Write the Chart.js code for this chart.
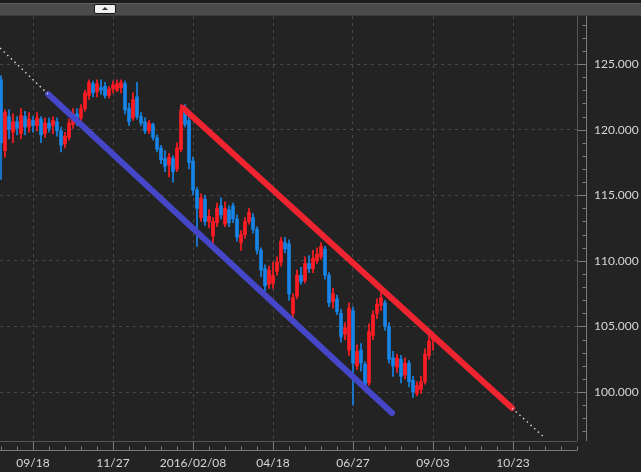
<!DOCTYPE html>
<html>
<head>
<meta charset="utf-8">
<script src="https://cdn.jsdelivr.net/npm/chart.js@4/dist/chart.umd.min.js"></script>
<style>
  body { margin: 0; background: #232323; width: 641px; height: 472px; overflow: hidden; }
  #topbar { position: relative; height: 16px; background: #1c1c1c; }
  #band { position: absolute; left: 0; right: 0; top: 3px; height: 11px; background: #4b4b4b; border-top: 1px solid #5e5e5e; border-bottom: 1px solid #3a3a3a; }
  #btn { position: absolute; left: 94px; top: 4px; width: 20px; height: 8px; background: #f0f0f0; border: 1px solid #151515; border-radius: 2px; }
  #btn:after { content: ''; position: absolute; left: 7px; top: 2px; border-left: 3px solid transparent; border-right: 3px solid transparent; border-bottom: 3px solid #333; }
  #wrap { position: relative; width: 641px; height: 456px; }
</style>
</head>
<body>
<div id="topbar"><div id="band"></div><div id="btn"></div></div>
<div id="wrap"><canvas id="fxChart"></canvas></div>
<script>
// x축 : 거래일 순번 (09/18 = 0), 50 거래일마다 날짜 라벨
const xTickIdx = [0, 50, 100, 150, 200, 250, 300];
const xTickLabels = ['09/18', '11/27', '2016/02/08', '04/18', '06/27', '09/03', '10/23'];
const yTicks = [100, 105, 110, 115, 120, 125];

// 캔들 (2.5 거래일 간격) 시가/고가/저가/종가
const openP = [
  123.8, 118.4, 121.0, 119.8, 120.6, 119.7, 121.0, 120.2, 120.7, 120.3,
  120.8, 119.7, 120.5, 120.3, 120.6, 119.9, 118.9, 119.4, 120.4, 121.2,
  120.9, 121.6, 122.6, 123.5, 122.9, 123.2, 123.3, 122.6, 123.1, 123.0,
  123.2, 123.5, 121.6, 120.9, 122.5, 121.0, 120.6, 119.9, 120.4, 119.4,
  118.6, 117.8, 117.3, 117.8, 117.0, 118.5, 121.5, 120.7, 117.6, 115.4,
  113.3, 114.7, 113.0, 111.9, 112.9, 114.2, 112.8, 113.9, 114.2, 113.2,
  111.4, 112.0, 113.0, 113.3, 112.4, 110.8, 109.4, 108.2, 108.3, 109.2,
  109.9, 111.4, 111.3, 106.0, 107.3, 108.9, 108.5, 109.8, 109.4, 110.0,
  110.3, 110.9, 108.9, 106.9, 107.1, 106.0, 104.4, 103.2, 106.2, 102.0,
  103.2, 102.1, 100.7, 104.3, 106.0, 106.6, 106.8, 105.0, 102.6, 101.9,
  102.5, 101.3, 102.2, 100.9, 99.9, 100.2, 100.8, 102.8, 104.0
];
const highP = [
  124.1, 121.5, 121.5, 121.2, 121.0, 121.6, 121.4, 121.3, 121.0, 121.3,
  121.0, 120.9, 120.9, 121.0, 120.9, 120.2, 119.8, 120.8, 121.6, 121.6,
  121.9, 123.0, 123.8, 123.7, 123.8, 123.8, 123.6, 123.3, 123.7, 123.8,
  123.8, 123.7, 122.0, 122.8, 123.6, 121.3, 120.9, 120.7, 120.5, 119.6,
  118.8, 118.4, 118.2, 118.0, 119.0, 121.9, 121.9, 121.0, 117.9, 115.6,
  115.1, 115.0, 113.9, 113.3, 114.4, 114.8, 114.5, 114.2, 114.4, 113.5,
  112.3, 113.3, 114.0, 113.6, 112.6, 111.0, 109.7, 109.6, 109.9, 110.3,
  111.8, 111.8, 111.6, 107.5, 109.3, 109.5, 110.3, 110.4, 110.8, 111.0,
  111.4, 111.1, 109.1, 107.9, 107.4, 106.3, 105.3, 106.8, 106.5, 103.6,
  103.7, 102.3, 105.2, 106.2, 107.1, 107.6, 107.0, 105.3, 103.1, 102.9,
  102.8, 102.6, 102.4, 101.2, 100.8, 101.2, 103.3, 104.3, 104.5
];
const lowP = [
  116.2, 117.9, 119.3, 119.0, 119.6, 119.3, 119.6, 119.8, 119.8, 119.9,
  119.0, 119.4, 119.8, 119.7, 119.5, 118.3, 118.6, 119.2, 120.1, 120.3,
  120.6, 121.4, 122.3, 122.5, 122.5, 122.7, 122.4, 122.4, 122.8, 122.9,
  122.8, 121.2, 120.3, 120.7, 120.8, 120.3, 119.7, 119.7, 119.2, 118.3,
  117.4, 116.8, 116.4, 116.0, 116.8, 118.3, 120.2, 117.0, 115.0, 111.1,
  113.0, 112.7, 112.5, 111.3, 112.6, 113.2, 112.6, 112.6, 112.9, 111.5,
  110.8, 111.7, 112.8, 112.1, 110.5, 108.8, 107.7, 107.9, 107.9, 108.9,
  109.6, 110.6, 107.0, 105.6, 107.1, 108.2, 108.3, 109.1, 109.1, 109.8,
  110.1, 108.6, 106.5, 106.4, 105.9, 103.8, 104.0, 102.8, 99.0, 101.7,
  101.6, 100.3, 100.5, 104.0, 105.6, 106.2, 104.7, 102.2, 101.2, 101.5,
  100.7, 101.0, 100.4, 99.6, 99.7, 99.9, 100.6, 102.5, 103.2
];
const closeP = [
  119.0, 121.3, 120.0, 120.6, 120.1, 121.1, 120.2, 120.8, 120.3, 120.9,
  119.6, 120.5, 120.1, 120.7, 119.9, 118.8, 119.5, 120.5, 121.2, 120.8,
  121.6, 122.8, 123.6, 122.8, 123.5, 123.0, 122.6, 123.1, 123.4, 123.5,
  123.6, 121.5, 120.6, 122.3, 121.0, 120.5, 119.9, 120.5, 119.4, 118.5,
  117.7, 117.2, 117.9, 116.8, 118.6, 121.5, 120.4, 117.5, 115.4, 114.0,
  114.8, 113.0, 113.4, 113.0, 114.0, 113.5, 114.0, 112.9, 113.2, 111.8,
  112.0, 113.0, 113.7, 112.4, 110.8, 109.3, 108.1, 109.3, 108.9, 109.9,
  111.5, 110.9, 107.5, 107.2, 108.9, 108.4, 109.8, 109.4, 110.2, 110.5,
  111.1, 108.9, 106.8, 107.5, 106.1, 104.2, 104.9, 106.4, 102.2, 103.1,
  102.2, 100.5, 104.6, 105.9, 106.7, 107.2, 105.0, 102.5, 102.0, 102.6,
  101.2, 102.2, 100.8, 100.0, 100.5, 100.8, 102.9, 103.9, 104.3
];

// 추세선 양 끝점 (x = 거래일 순번, y = 가격)
const blueLineX = [9.4, 224.4];
const blueLineY = [122.71, 98.40];
const blueDotX = [-20.6, 9.4];
const blueDotY = [126.22, 122.71];
const redLineX = [93.75, 299.4];
const redLineY = [121.65, 98.78];
const redDotX = [299.4, 320.0];
const redDotY = [98.78, 96.49];

const xMin = -20.625, xMax = 340;
const yMin = 96.27, yMax = 128.66;

const dayIdx = openP.map((v, i) => -20 + 2.5 * i);
const upColor = '#ff1c24';
const downColor = '#1784e6';
const candleColors = dayIdx.map((x, i) => closeP[i] >= openP[i] ? upColor : downColor);
const pts = (xs, ys) => xs.map((x, i) => ({ x: x, y: ys[i] }));

// 축 테두리, 눈금 그려주는 장치
const axisDeco = {
  id: 'axisDeco',
  afterDraw(chart) {
    const { ctx, chartArea: a, scales: { x, y } } = chart;
    ctx.save();
    ctx.lineWidth = 1;
    ctx.strokeStyle = '#555';
    ctx.beginPath();
    ctx.moveTo(a.right + 0.5, a.top); ctx.lineTo(a.right + 0.5, a.bottom);
    ctx.moveTo(a.left, a.bottom + 0.5); ctx.lineTo(a.right, a.bottom + 0.5);
    ctx.stroke();
    ctx.strokeStyle = '#7a7a7a';
    ctx.beginPath();
    const ax = a.right + 9.5, ay = a.bottom + 9.5;
    ctx.moveTo(ax, a.top); ctx.lineTo(ax, a.bottom);
    ctx.moveTo(a.left, ay); ctx.lineTo(a.right, ay);
    for (let v = Math.ceil(y.min); v <= y.max; v++) {
      const p = Math.round(y.getPixelForValue(v)) + 0.5;
      const len = v % 5 === 0 ? 9 : 4;
      ctx.moveTo(ax - len, p); ctx.lineTo(ax, p);
    }
    for (let v = -20; v <= x.max; v += 10) {
      const p = Math.round(x.getPixelForValue(v)) + 0.5;
      const len = v % 50 === 0 ? 9 : 4;
      ctx.moveTo(p, ay - len); ctx.lineTo(p, ay);
    }
    ctx.stroke();
    ctx.restore();
  }
};

const lineStyle = { type: 'line', pointRadius: 0, tension: 0, fill: false };

new Chart(document.getElementById('fxChart').getContext('2d'), {
  type: 'bar',
  data: {
    datasets: [
      { ...lineStyle, data: pts(blueDotX, blueDotY), borderColor: '#d0d0d0', borderWidth: 1.5, borderDash: [1.5, 3.5], order: 0 },
      { ...lineStyle, data: pts(redDotX, redDotY), borderColor: '#d0d0d0', borderWidth: 1.5, borderDash: [1.5, 3.5], order: 0 },
      { ...lineStyle, data: pts(blueLineX, blueLineY), borderColor: '#4646c8', borderWidth: 6, borderCapStyle: 'round', order: 0 },
      { ...lineStyle, data: pts(redLineX, redLineY), borderColor: '#ee2530', borderWidth: 6, borderCapStyle: 'round', order: 0 },
      {
        data: dayIdx.map((x, i) => ({ x: x, y: [lowP[i], highP[i]] })),
        backgroundColor: candleColors, barThickness: 1, grouped: false, order: 2
      },
      {
        data: dayIdx.map((x, i) => ({ x: x, y: [openP[i], closeP[i]] })),
        backgroundColor: candleColors, barThickness: 3, grouped: false, order: 1
      }
    ]
  },
  options: {
    responsive: true,
    maintainAspectRatio: false,
    animation: false,
    layout: { padding: 0 },
    plugins: { legend: { display: false }, tooltip: { enabled: false } },
    scales: {
      x: {
        type: 'linear', min: xMin, max: xMax, offset: false,
        afterBuildTicks: s => { s.ticks = xTickIdx.map(v => ({ value: v })); },
        afterFit: s => { s.height = 31; s.paddingLeft = 0; s.paddingRight = 0; },
        grid: { color: '#474747', drawTicks: false, offset: false },
        border: { display: false, dash: [3, 4] },
        ticks: {
          color: '#d6d6d6', font: { family: 'Lato', size: 12 }, padding: 15,
          maxRotation: 0, autoSkip: false,
          callback: v => xTickLabels[xTickIdx.indexOf(v)]
        }
      },
      y: {
        position: 'right', min: yMin, max: yMax,
        afterBuildTicks: s => { s.ticks = yTicks.map(v => ({ value: v })); },
        afterFit: s => { s.width = 64; s.paddingTop = 0; s.paddingBottom = 0; },
        grid: { color: '#474747', drawTicks: false },
        border: { display: false, dash: [3, 4] },
        ticks: {
          color: '#d6d6d6', font: { family: 'Lato', size: 12 }, padding: 17,
          callback: v => v.toFixed(3)
        }
      }
    }
  },
  plugins: [axisDeco]
});
</script>
</body>
</html>
